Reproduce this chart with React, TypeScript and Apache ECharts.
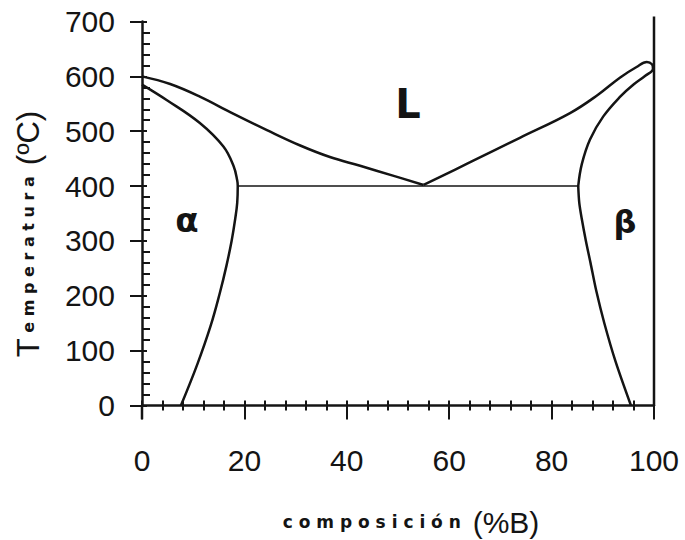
import React, { useEffect, useRef } from "react";
import * as echarts from "echarts";

const xTicks = [0, 20, 40, 60, 80, 100];
const yTicks = [0, 100, 200, 300, 400, 500, 600, 700];

// liquidus from pure A down to the eutectic
const liquidusLeft: number[][] = [
  [0, 600], [5.5, 586], [11.3, 563], [17.8, 532], [24.4, 502], [30.9, 474],
  [36.7, 453], [42.6, 437], [49, 419], [55, 402],
];
// liquidus from eutectic up to pure B, looping back into the beta solidus
const liquidusRightSolidusBeta: number[][] = [
  [55, 402], [64, 443], [73.8, 488], [83.6, 533], [89, 566], [93.4, 598],
  [96.6, 617], [98.6, 626], [99.6, 622], [99.8, 614], [98.3, 601], [96, 585],
  [93.4, 563], [90.1, 527], [87.5, 485], [85.9, 440], [85.2, 400],
];
// alpha solidus + alpha solvus
const alphaBoundary: number[][] = [
  [0, 585], [4.8, 557], [11.3, 515], [15.9, 472], [17.9, 436], [18.6, 410],
  [18.7, 400], [18.6, 370], [18.2, 340], [17.5, 300], [16.5, 255], [15.2, 205],
  [13.4, 145], [10.8, 75], [7.6, 0],
];
// beta solvus
const betaSolvus: number[][] = [
  [85.2, 400], [85.4, 370], [85.9, 340], [86.7, 300], [87.6, 260], [88.7, 210],
  [90.3, 150], [92.5, 80], [95.5, 0],
];
const eutecticLine: number[][] = [[18.7, 400], [85.2, 400]];
const rightEdge: number[][] = [[100, 0], [100, 709]];
const leftEdgeExt: number[][] = [[0, 0], [0, -25]];

const INK = "#141414";

export default function App() {
  const ref = useRef<HTMLDivElement>(null);
  useEffect(() => {
    if (!ref.current) return;
    const chart = echarts.init(ref.current, undefined, { renderer: "svg" });
    const labelFont = { fontFamily: "Liberation Sans", fontSize: 30, color: INK };
    const lineSeries = (data: number[][], width: number, smooth: number | boolean, clip = true) => ({
      type: "line",
      data,
      smooth,
      symbol: "none",
      clip,
      xAxisIndex: 0,
      yAxisIndex: 0,
      lineStyle: { color: INK, width },
      silent: true,
    });
    const spaced = (w: string) => w.split("").join(" ");
    chart.setOption({
      animation: false,
      grid: { left: 142, right: 31, top: 21.5, bottom: 134.5 },
      xAxis: [
        {
          type: "value", min: 0, max: 100, interval: 20,
          axisLine: { show: true, lineStyle: { color: INK, width: 2.5 } },
          axisTick: { show: true, length: 14, lineStyle: { color: INK, width: 2 } },
          minorTick: { show: true, splitNumber: 5, length: 5, lineStyle: { color: INK, width: 2 } },
          axisLabel: { ...labelFont, margin: 40, formatter: (v: number) => (xTicks.includes(v) ? String(v) : "") },
          splitLine: { show: false },
        },
        {
          type: "value", min: 0, max: 100, interval: 20, position: "bottom",
          axisLine: { show: false },
          axisTick: { show: true, inside: true, length: 5, lineStyle: { color: INK, width: 2 } },
          minorTick: { show: true, splitNumber: 5, length: 5, lineStyle: { color: INK, width: 2 } },
          axisLabel: { show: false },
          splitLine: { show: false },
        },
      ],
      yAxis: [
        {
          type: "value", min: 0, max: 700, interval: 100,
          axisLine: { show: true, lineStyle: { color: INK, width: 2.5 } },
          axisTick: { show: true, length: 12, lineStyle: { color: INK, width: 2 } },
          axisLabel: { ...labelFont, margin: 27, formatter: (v: number) => (yTicks.includes(v) ? String(v) : "") },
          splitLine: { show: false },
        },
        {
          type: "value", min: 0, max: 700, interval: 100, position: "left",
          axisLine: { show: false },
          axisTick: { show: true, inside: true, length: 5, lineStyle: { color: INK, width: 2 } },
          minorTick: { show: true, splitNumber: 5, length: 8, lineStyle: { color: INK, width: 2 } },
          axisLabel: { show: false },
          splitLine: { show: false },
        },
      ],
      series: [
        lineSeries(liquidusLeft, 2.5, 0.4),
        lineSeries(liquidusRightSolidusBeta, 2.5, 0.4),
        lineSeries(alphaBoundary, 2.5, 0.4),
        lineSeries(betaSolvus, 2.5, 0.3),
        lineSeries(eutecticLine, 1.5, false),
        lineSeries(rightEdge, 2.5, false, false),
        lineSeries(leftEdgeExt, 2.5, false, false),
      ],
      graphic: [
        {
          type: "text", x: 408, y: 104,
          style: { text: "L", font: "bold 40px 'DejaVu Sans'", fill: INK, align: "center", verticalAlign: "middle" },
        },
        {
          type: "text", x: 187, y: 220,
          style: { text: "α", font: "bold 34px 'DejaVu Sans'", fill: INK, align: "center", verticalAlign: "middle" },
        },
        {
          type: "text", x: 625, y: 222,
          style: { text: "β", font: "bold 32px 'DejaVu Sans'", fill: INK, align: "center", verticalAlign: "middle" },
        },
        {
          type: "text", x: 28, y: 234, rotation: Math.PI / 2,
          style: {
            text: "{big|T}{small| " + spaced("emperatura") + "  }{big|(ºC)}",
            align: "center", verticalAlign: "middle", fill: INK,
            rich: {
              big: { fontFamily: "Liberation Sans", fontSize: 31, fill: INK },
              small: { fontFamily: "DejaVu Sans", fontWeight: "bold", fontSize: 16, fill: INK },
            },
          },
        },
        {
          type: "text", x: 411, y: 522,
          style: {
            text: "{small|" + spaced("composición") + "  }{big|(%B)}",
            align: "center", verticalAlign: "middle", fill: INK,
            rich: {
              big: { fontFamily: "Liberation Sans", fontSize: 30, fill: INK },
              small: { fontFamily: "DejaVu Sans", fontWeight: "bold", fontSize: 17, fill: INK },
            },
          },
        },
      ],
    });
    return () => chart.dispose();
  }, []);
  return <div ref={ref} style={{ position: "fixed", left: 0, top: 0, width: 685, height: 540, background: "#fff" }} />;
}
